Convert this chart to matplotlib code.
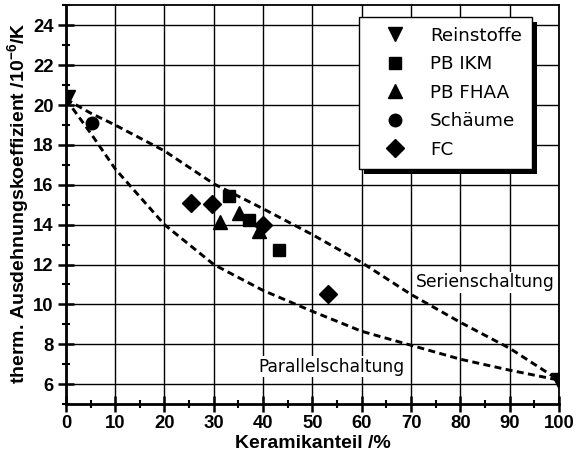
import matplotlib
matplotlib.use("Agg")
import matplotlib.pyplot as plt
from matplotlib.ticker import MultipleLocator
from matplotlib.patches import Rectangle

plt.rcParams['font.family'] = ['Liberation Sans', 'DejaVu Sans']
plt.rcParams['mathtext.fontset'] = 'custom'
plt.rcParams['mathtext.rm'] = 'Liberation Sans'
plt.rcParams['mathtext.bf'] = 'Liberation Sans:bold'

# Data
rein_x = [0.5, 99.8]
rein_y = [20.4, 6.2]
ikm_x = [33.1, 37.2, 43.2]
ikm_y = [15.45, 14.25, 12.75]
fhaa_x = [31.2, 35.1, 39.2]
fhaa_y = [14.15, 14.6, 13.7]
schaum_x = [5.3]
schaum_y = [19.1]
fc_x = [25.4, 29.6, 40.0, 53.1]
fc_y = [15.1, 15.05, 14.0, 10.5]

serie_x = [0, 5, 10, 20, 30, 40, 50, 60, 70, 80, 90, 100]
serie_y = [20.3, 19.6, 19.0, 17.7, 16.05, 14.8, 13.5, 12.1, 10.5, 9.1, 7.8, 6.2]
par_x = [0, 5, 10, 20, 30, 40, 50, 60, 70, 80, 90, 100]
par_y = [20.3, 18.6, 16.8, 14.0, 12.0, 10.7, 9.65, 8.65, 7.95, 7.25, 6.7, 6.2]

fig = plt.figure(figsize=(5.78, 4.55), dpi=100)
ax = fig.add_axes([0.114, 0.112, 0.853, 0.876])

ax.plot(serie_x, serie_y, 'k--', lw=2.1, dashes=(2.4, 1.5), zorder=2)
ax.plot(par_x, par_y, 'k--', lw=2.1, dashes=(2.4, 1.5), zorder=2)

ax.plot(rein_x, rein_y, 'kv', ms=10, ls='none', label='Reinstoffe', zorder=4)
ax.plot(ikm_x, ikm_y, 'ks', ms=8.4, ls='none', label='PB IKM', zorder=4)
ax.plot(fhaa_x, fhaa_y, 'k^', ms=10, ls='none', label='PB FHAA', zorder=4)
ax.plot(schaum_x, schaum_y, 'ko', ms=9, ls='none', label='Schäume', zorder=4)
ax.plot(fc_x, fc_y, 'kD', ms=9, ls='none', label='FC', zorder=4)

ax.set_xlim(0, 100)
ax.set_ylim(5, 25)
ax.xaxis.set_major_locator(MultipleLocator(10))
ax.xaxis.set_minor_locator(MultipleLocator(5))
ax.yaxis.set_minor_locator(MultipleLocator(1))
ax.set_yticks(range(6, 25, 2))
ax.grid(True, which='major', color='black', lw=1.0)
ax.set_axisbelow(True)

ax.tick_params(which='major', direction='inout', length=12, width=1.8, labelsize=13.3)
ax.tick_params(which='minor', direction='inout', length=5.5, width=1.5)
ax.tick_params(axis='x', which='major', pad=2)
ax.tick_params(axis='y', which='major', pad=3)
for lbl in ax.get_xticklabels() + ax.get_yticklabels():
    lbl.set_fontweight('bold')
for s in ['left', 'bottom']:
    ax.spines[s].set_linewidth(2)
for s in ['top', 'right']:
    ax.spines[s].set_linewidth(1.3)

ax.set_xlabel('Keramikanteil /%', fontsize=14, fontweight='bold')
ax.xaxis.set_label_coords(0.5, -0.078)
ax.set_ylabel('therm. Ausdehnungskoeffizient /10$^{\\mathbf{-6}}$/K', fontsize=14, fontweight='bold')
ax.yaxis.set_label_coords(-0.069, 0.505)

ax.text(71, 10.85, 'Serienschaltung', fontsize=12.3, ha='left', va='baseline',
        family='DejaVu Sans', bbox=dict(facecolor='white', edgecolor='none', pad=1))
ax.text(39.0, 6.62, 'Parallelschaltung', fontsize=12.3, ha='left', va='baseline',
        family='DejaVu Sans', bbox=dict(facecolor='white', edgecolor='none', pad=1))

leg = ax.legend(loc='upper right', bbox_to_anchor=(0.945, 0.972), frameon=True,
                fancybox=False, shadow=False,
                prop={'family': 'DejaVu Sans', 'size': 13.2}, handlelength=2.84,
                handletextpad=0.49, borderpad=0.55, labelspacing=0.57, borderaxespad=0)
leg.get_frame().set_edgecolor('black')
leg.get_frame().set_linewidth(1.0)
leg.get_frame().set_alpha(1.0)
leg.set_zorder(10)

fig.canvas.draw()
bb = leg.get_window_extent().transformed(fig.transFigure.inverted())
sh = Rectangle((bb.x0 + 5/578, bb.y0 - 5/455), bb.width, bb.height,
               transform=fig.transFigure, facecolor='black', edgecolor='none',
               zorder=9, clip_on=False)
ax.add_patch(sh)

fig.savefig('out.png', dpi=100)
